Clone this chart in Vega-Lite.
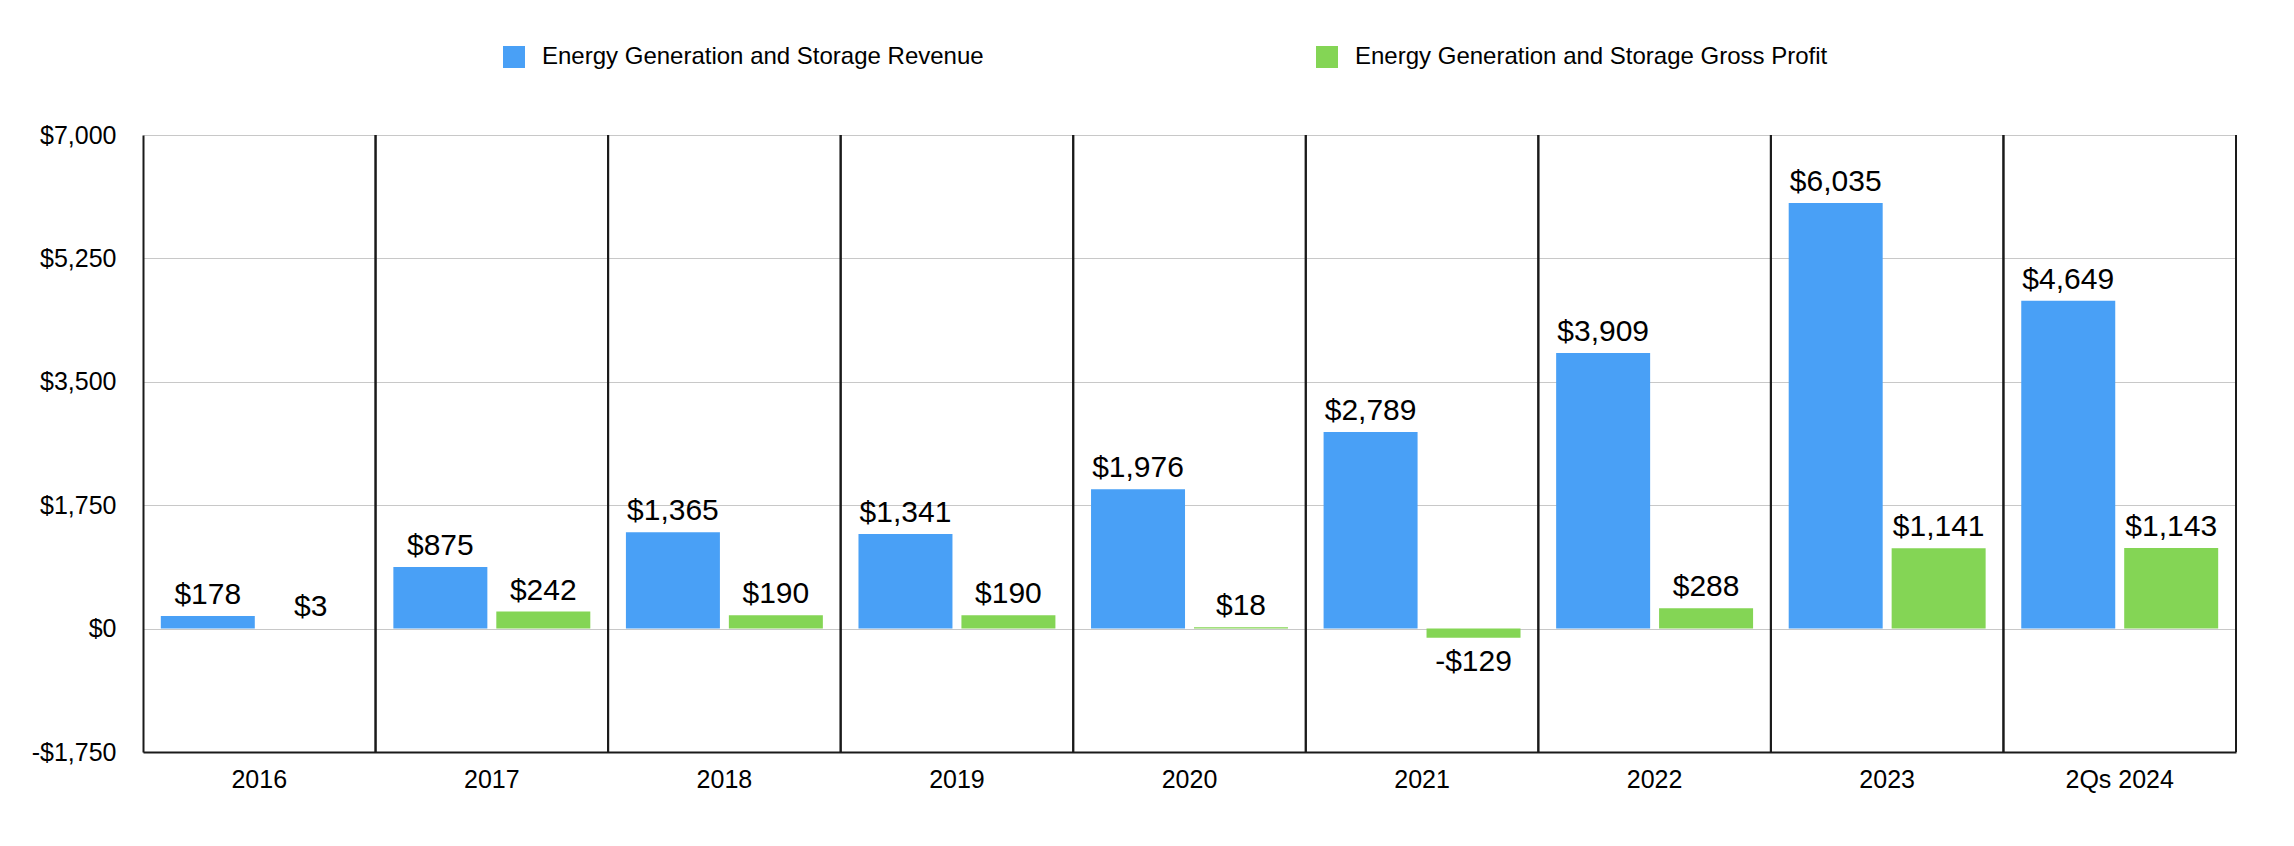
{
  "$schema": "https://vega.github.io/schema/vega-lite/v6.json",
  "width": 2093,
  "height": 617,
  "autosize": {"type": "none"},
  "padding": {"left": 143, "top": 135, "right": 58, "bottom": 94},
  "background": "white",
  "config": {
    "view": {"stroke": null},
    "font": "Liberation Sans",
    "locale": {"number": {"decimal": ".", "thousands": ",", "grouping": [3], "currency": ["$", ""], "minus": "-"}}
  },
  "data": {
    "values": [
      {"period": "2016", "series": "Energy Generation and Storage Revenue", "value": 178},
      {"period": "2016", "series": "Energy Generation and Storage Gross Profit", "value": 3},
      {"period": "2017", "series": "Energy Generation and Storage Revenue", "value": 875},
      {"period": "2017", "series": "Energy Generation and Storage Gross Profit", "value": 242},
      {"period": "2018", "series": "Energy Generation and Storage Revenue", "value": 1365},
      {"period": "2018", "series": "Energy Generation and Storage Gross Profit", "value": 190},
      {"period": "2019", "series": "Energy Generation and Storage Revenue", "value": 1341},
      {"period": "2019", "series": "Energy Generation and Storage Gross Profit", "value": 190},
      {"period": "2020", "series": "Energy Generation and Storage Revenue", "value": 1976},
      {"period": "2020", "series": "Energy Generation and Storage Gross Profit", "value": 18},
      {"period": "2021", "series": "Energy Generation and Storage Revenue", "value": 2789},
      {"period": "2021", "series": "Energy Generation and Storage Gross Profit", "value": -129},
      {"period": "2022", "series": "Energy Generation and Storage Revenue", "value": 3909},
      {"period": "2022", "series": "Energy Generation and Storage Gross Profit", "value": 288},
      {"period": "2023", "series": "Energy Generation and Storage Revenue", "value": 6035},
      {"period": "2023", "series": "Energy Generation and Storage Gross Profit", "value": 1141},
      {"period": "2Qs 2024", "series": "Energy Generation and Storage Revenue", "value": 4649},
      {"period": "2Qs 2024", "series": "Energy Generation and Storage Gross Profit", "value": 1143}
    ]
  },
  "layer": [
    {
      "mark": {"type": "rule", "color": "#1a1a1a", "strokeWidth": 2},
      "encoding": {
        "x": {
          "field": "period", "type": "nominal", "bandPosition": 1,
          "sort": ["2016", "2017", "2018", "2019", "2020", "2021", "2022", "2023", "2Qs 2024"],
          "scale": {"paddingInner": 0, "paddingOuter": 0},
          "axis": {"title": null, "ticks": false, "labelAngle": 0, "labelFontSize": 25, "labelColor": "black", "labelPadding": 15, "domainColor": "#1a1a1a", "domainWidth": 2, "grid": false}
        }
      }
    },
    {
      "mark": {"type": "bar"},
      "encoding": {
        "x": {
          "field": "period", "type": "nominal",
          "sort": ["2016", "2017", "2018", "2019", "2020", "2021", "2022", "2023", "2Qs 2024"],
          "scale": {"paddingInner": 0, "paddingOuter": 0},
          "axis": {"title": null, "ticks": false, "labelAngle": 0, "labelFontSize": 25, "labelColor": "black", "labelPadding": 15, "domainColor": "#1a1a1a", "domainWidth": 2, "grid": false}
        },
        "xOffset": {
          "field": "series", "type": "nominal",
          "sort": ["Energy Generation and Storage Revenue", "Energy Generation and Storage Gross Profit"],
          "scale": {"paddingInner": 0.087, "paddingOuter": 0.173}
        },
        "y": {
          "field": "value", "type": "quantitative",
          "scale": {"domain": [-1750, 7000], "nice": false, "zero": false},
          "axis": {"title": null, "values": [-1750, 0, 1750, 3500, 5250, 7000], "format": "$,.0f", "ticks": false, "labelFontSize": 25, "labelColor": "black", "labelPadding": 27, "domainColor": "#1a1a1a", "domainWidth": 2, "gridColor": "#c8c8c8", "gridWidth": 1}
        },
        "color": {
          "field": "series", "type": "nominal",
          "scale": {"domain": ["Energy Generation and Storage Revenue", "Energy Generation and Storage Gross Profit"], "range": ["#49a0f6", "#84d555"]},
          "legend": {"orient": "none", "legendX": 359, "legendY": -90, "direction": "horizontal", "title": null, "symbolType": "square", "symbolSize": 484, "symbolStrokeWidth": 0, "labelFontSize": 24, "labelOffset": 16, "columnPadding": 331, "labelColor": "black", "labelLimit": 0}
        }
      }
    },
    {
      "mark": {"type": "text", "fontSize": 30, "color": "black", "baseline": {"expr": "datum.value < 0 ? 'top' : 'bottom'"}, "dy": {"expr": "datum.value < 0 ? 9 : -6"}},
      "encoding": {
        "x": {
          "field": "period", "type": "nominal",
          "sort": ["2016", "2017", "2018", "2019", "2020", "2021", "2022", "2023", "2Qs 2024"],
          "scale": {"paddingInner": 0, "paddingOuter": 0},
          "axis": {"title": null, "ticks": false, "labelAngle": 0, "labelFontSize": 25, "labelColor": "black", "labelPadding": 15, "domainColor": "#1a1a1a", "domainWidth": 2, "grid": false}
        },
        "xOffset": {
          "field": "series", "type": "nominal",
          "sort": ["Energy Generation and Storage Revenue", "Energy Generation and Storage Gross Profit"],
          "scale": {"paddingInner": 0.087, "paddingOuter": 0.173}
        },
        "y": {
          "field": "value", "type": "quantitative",
          "scale": {"domain": [-1750, 7000], "nice": false, "zero": false},
          "axis": {"title": null, "values": [-1750, 0, 1750, 3500, 5250, 7000], "format": "$,.0f", "ticks": false, "labelFontSize": 25, "labelColor": "black", "labelPadding": 27, "domainColor": "#1a1a1a", "domainWidth": 2, "gridColor": "#c8c8c8", "gridWidth": 1}
        },
        "text": {"field": "value", "type": "quantitative", "format": "$,.0f"}
      }
    }
  ]
}
